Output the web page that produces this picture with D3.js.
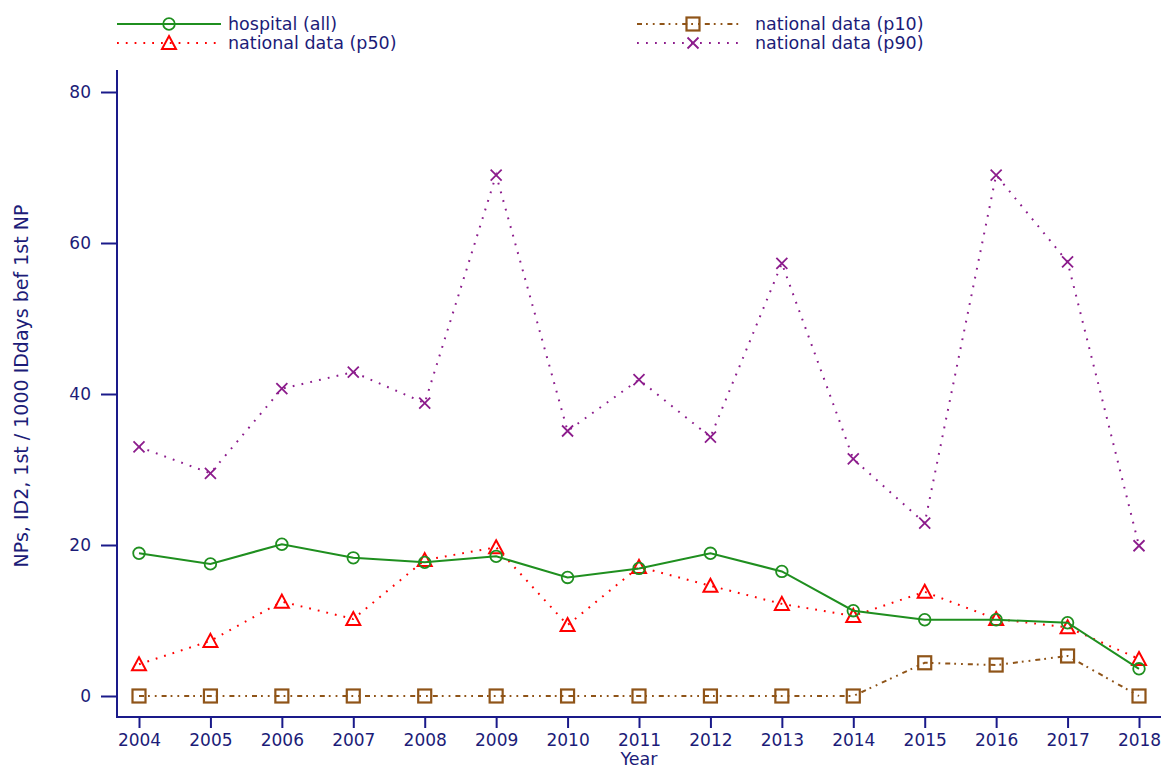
<!DOCTYPE html>
<html>
<head>
<meta charset="utf-8">
<script src="https://cdn.jsdelivr.net/npm/d3@7"></script>
<style>
  body { margin: 0; background: #fff; }
  svg text { font-family: "DejaVu Sans", sans-serif; fill: #1c1c78; }
</style>
</head>
<body>
<svg id="chart"></svg>
<script>
var width = 1168;
var height = 769;

// values
var years = [2004, 2005, 2006, 2007, 2008, 2009, 2010, 2011, 2012, 2013, 2014, 2015, 2016, 2017, 2018];
var hospitalAll = [18.9, 17.5, 20.1, 18.3, 17.7, 18.5, 15.7, 16.9, 18.9, 16.5, 11.3, 10.1, 10.1, 9.7, 3.6];
var nationalP50 = [4.2, 7.3, 12.5, 10.2, 18.0, 19.7, 9.4, 17.1, 14.6, 12.2, 10.6, 13.8, 10.2, 9.1, 4.9];
var nationalP10 = [0, 0, 0, 0, 0, 0, 0, 0, 0, 0, 0, 4.4, 4.1, 5.3, 0];
var nationalP90 = [33.0, 29.5, 40.7, 42.9, 38.8, 69.0, 35.1, 41.9, 34.3, 57.3, 31.4, 22.9, 69.0, 57.5, 19.9];
var yTicks = [0, 20, 40, 60, 80];
var seriesNames = ["hospital (all)", "national data (p50)", "national data (p10)", "national data (p90)"];

var navy = "#1a1a8a";

var series = [
  {name: seriesNames[0], values: hospitalAll, color: "#1f8f1f", dash: null, width: 2, marker: "circle"},
  {name: seriesNames[1], values: nationalP50, color: "#ff0000", dash: "1.8,7", width: 2, marker: "triangle"},
  {name: seriesNames[2], values: nationalP10, color: "#8f5418", dash: "5,4,1.8,5,1.8,5", width: 2, marker: "square"},
  {name: seriesNames[3], values: nationalP90, color: "#8c1c8c", dash: "1.8,7.2", width: 2, marker: "x"}
];

var svg = d3.select("#chart")
    .attr("width", width)
    .attr("height", height);

var x = d3.scaleLinear().domain([2004, 2018]).range([139, 1139]);
var y = d3.scaleLinear().domain([0, 80]).range([696, 92]);

// axis frame (left + bottom only)
var axisLeftX = 117, axisBottomY = 717, axisTopY = 70, axisRightX = 1161;

var yAxis = svg.append("g")
    .attr("transform", "translate(" + axisLeftX + ",0)")
    .call(d3.axisLeft(y).tickValues(yTicks).tickSize(16).tickPadding(10).tickSizeOuter(0));
yAxis.select(".domain").remove();
yAxis.selectAll("line").attr("stroke", navy).attr("stroke-width", 2);
yAxis.selectAll("text").style("font-size", "17px").attr("fill", "#1c1c78");

var xAxis = svg.append("g")
    .attr("transform", "translate(0," + axisBottomY + ")")
    .call(d3.axisBottom(x).tickValues(years).tickFormat(d3.format("d")).tickSize(11).tickPadding(6).tickSizeOuter(0));
xAxis.select(".domain").remove();
xAxis.selectAll("line").attr("stroke", navy).attr("stroke-width", 2);
xAxis.selectAll("text").style("font-size", "17px").attr("fill", "#1c1c78");

svg.append("line")
    .attr("x1", axisLeftX).attr("x2", axisLeftX)
    .attr("y1", axisTopY).attr("y2", axisBottomY + 1)
    .attr("stroke", navy).attr("stroke-width", 2);
svg.append("line")
    .attr("x1", axisLeftX - 1).attr("x2", axisRightX)
    .attr("y1", axisBottomY).attr("y2", axisBottomY)
    .attr("stroke", navy).attr("stroke-width", 2);

// axis titles
svg.append("text")
    .attr("x", (axisLeftX + axisRightX) / 2)
    .attr("y", 765)
    .attr("text-anchor", "middle")
    .style("font-size", "17.5px")
    .text("Year");

svg.append("text")
    .attr("transform", "translate(28,386) rotate(-90)")
    .attr("text-anchor", "middle")
    .style("font-size", "19px")
    .text("NPs, ID2, 1st / 1000 IDdays bef 1st NP");

// marker drawing
function drawMarker(g, type, color) {
  if (type === "circle") {
    g.append("circle").attr("r", 5.8)
      .attr("fill", "none").attr("stroke", color).attr("stroke-width", 1.8);
  } else if (type === "triangle") {
    g.append("path").attr("d", "M0,-7 L7,6 L-7,6 Z")
      .attr("fill", "none").attr("stroke", color).attr("stroke-width", 2);
  } else if (type === "square") {
    g.append("rect").attr("x", -6.5).attr("y", -6.5).attr("width", 13).attr("height", 13)
      .attr("fill", "none").attr("stroke", color).attr("stroke-width", 2.2);
  } else if (type === "x") {
    g.append("path").attr("d", "M-5.5,-5.5 L5.5,5.5 M5.5,-5.5 L-5.5,5.5")
      .attr("fill", "none").attr("stroke", color).attr("stroke-width", 1.8);
  }
}

var line = d3.line()
    .x(d => x(d.year))
    .y(d => y(d.value));

// draw series in back-to-front order: p90, p10, p50, hospital
var drawOrder = [3, 2, 1, 0];
drawOrder.forEach(function(i) {
  var s = series[i];
  var pts = years.map((yr, j) => ({year: yr, value: s.values[j]}));
  svg.append("path")
      .datum(pts)
      .attr("d", line)
      .attr("fill", "none")
      .attr("stroke", s.color)
      .attr("stroke-width", s.width)
      .attr("stroke-dasharray", s.dash);
  svg.selectAll(".m" + i)
      .data(pts)
    .enter().append("g")
      .attr("class", "m" + i)
      .attr("transform", d => "translate(" + x(d.year) + "," + y(d.value) + ")")
      .each(function() { drawMarker(d3.select(this), s.marker, s.color); });
});

// legend, two columns
var legendPos = [
  {lx: 117, y: 24}, {lx: 117, y: 43}, {lx: 637, y: 24}, {lx: 637, y: 43}
];
var legendMarkerX = [169, 169, 693, 693];
series.forEach(function(s, i) {
  var p = legendPos[i];
  var g = svg.append("g").attr("class", "legend");
  g.append("line")
      .attr("x1", p.lx).attr("x2", p.lx + 104)
      .attr("y1", p.y).attr("y2", p.y)
      .attr("stroke", s.color)
      .attr("stroke-width", s.width)
      .attr("stroke-dasharray", s.dash);
  var mg = g.append("g").attr("transform", "translate(" + legendMarkerX[i] + "," + p.y + ")");
  drawMarker(mg, s.marker, s.color);
  g.append("text")
      .attr("x", i < 2 ? 228 : 755)
      .attr("y", p.y)
      .attr("dy", "0.35em")
      .style("font-size", "17.5px")
      .text(s.name);
});
</script>
</body>
</html>
